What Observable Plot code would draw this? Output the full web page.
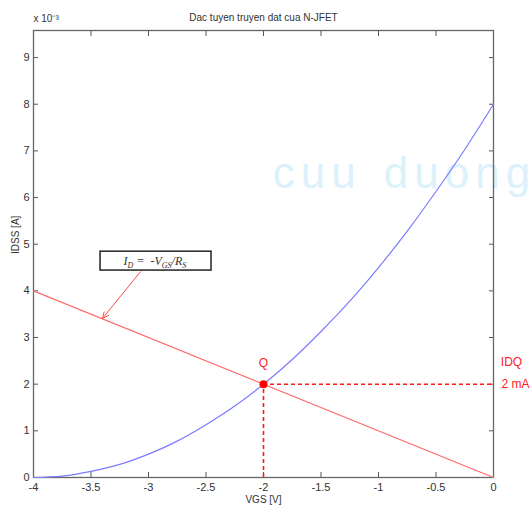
<!DOCTYPE html>
<html><head><meta charset="utf-8">
<script src="https://cdn.jsdelivr.net/npm/d3@7"></script>
<script src="https://cdn.jsdelivr.net/npm/@observablehq/plot@0.6"></script>
<style>body{margin:0;background:#fff}svg{display:block}</style>
</head><body><div id="chart"></div>
<script>
// Transfer characteristic (ID in mA, axis shows x 10^-3)
const vgs = [-4,-3.75,-3.5,-3.25,-3,-2.75,-2.5,-2.25,-2,-1.75,-1.5,-1.25,-1,-0.75,-0.5,-0.25,0];
const ids = [0,0.03,0.13,0.28,0.5,0.78,1.13,1.53,2,2.53,3.13,3.78,4.5,5.28,6.13,7.03,8];
// Load line ID = -VGS/RS
const loadVgs = [-4, 0];
const loadIds = [4, 0];
// Q point
const qVgs = [-2];
const qIds = [2];
const xTicks = [-4,-3.5,-3,-2.5,-2,-1.5,-1,-0.5,0];
const yTicks = [0,1,2,3,4,5,6,7,8,9];

const curve = vgs.map((v,i)=>({v, i: ids[i]}));
const load = loadVgs.map((v,i)=>({v, i: loadIds[i]}));
const q = qVgs.map((v,i)=>({v, i: qIds[i]}));

const font = "Liberation Sans, Arial, sans-serif";
const plot = Plot.plot({
  width: 532, height: 510,
  marginLeft: 33, marginRight: 39, marginTop: 30, marginBottom: 33,
  style: {fontFamily: font, fontSize: "11px", background: "#fff", color: "#333"},
  x: {domain: [-4, 0], ticks: xTicks},
  y: {domain: [0, 9.58], ticks: yTicks},
  marks: [
    // watermark
    Plot.text(["cuu duong"], {x: -1.92, y: 6.5, text: d=>d, textAnchor: "start", fontSize: 44, fill: "#dcf1fb", className: "wm"}),
    Plot.axisX({ticks: xTicks, tickSize: -5, tickPadding: 11, stroke: "#555", fill: "#333", label: null, tickFormat: d => String(d)}),
    Plot.axisX({anchor: "top", ticks: xTicks, tickSize: -5, stroke: "#555", label: null, tickFormat: () => ""}),
    Plot.axisY({ticks: yTicks, tickSize: -5, tickPadding: 9, stroke: "#555", fill: "#333", label: null}),
    Plot.axisY({anchor: "right", ticks: yTicks, tickSize: -5, stroke: "#555", label: null, tickFormat: () => ""}),
    Plot.frame({stroke: "#666", strokeWidth: 1.3}),
    Plot.line(curve, {x: "v", y: "i", stroke: "#7b7bff", strokeWidth: 1.2, curve: "natural"}),
    Plot.line(load, {x: "v", y: "i", stroke: "#ff6b6b", strokeWidth: 1.2}),
    Plot.ruleX(q, {x: "v", y1: 0, y2: "i", stroke: "#ff1a1a", strokeWidth: 1.6, strokeDasharray: "4,3"}),
    Plot.ruleY(q, {y: "i", x1: "v", x2: 0, stroke: "#ff1a1a", strokeWidth: 1.6, strokeDasharray: "4,3"}),
    Plot.dot(q, {x: "v", y: "i", r: 4, fill: "#ff0000"}),
    Plot.text(q, {x: "v", y: "i", text: () => "Q", dy: -21, fill: "#ff1a1a", fontSize: 12}),
    Plot.text(q, {x: 0, y: "i", text: () => "IDQ", dx: 18, dy: -22, fill: "#ff1a1a", fontSize: 12}),
    Plot.text(q, {x: 0, y: "i", text: () => "2 mA", dx: 22, dy: 0, fill: "#ff1a1a", fontSize: 12}),
    // annotation box and arrow
    Plot.rect([0], {x1: -3.417, x2: -2.452, y1: 4.435, y2: 4.84, fill: "#fff", stroke: "#222", strokeWidth: 1.5}),
    Plot.text(["I_D"], {x: -2.94, y: 4.64, text: () => "", fill: "#333"}),
    Plot.arrow([0], {x1: -3.07, y1: 4.41, x2: -3.4, y2: 3.41, stroke: "#ff4d4d", strokeWidth: 1, headLength: 10, headAngle: 50}),
    // titles
    Plot.text(["Dac tuyen truyen dat cua N-JFET"], {frameAnchor: "top", dy: -17, fontSize: 10, fill: "#333"}),
    Plot.text(["x 10⁻³"], {frameAnchor: "top-left", dy: -16, dx: 0, textAnchor: "start", fontSize: 10, fill: "#333"}),
    Plot.text(["VGS [V]"], {frameAnchor: "bottom", dy: 25, fontSize: 10, fill: "#333"}),
    Plot.text(["IDSS [A]"], {frameAnchor: "left", dx: -18, rotate: -90, fontSize: 10, fill: "#333"})
  ]
});
document.getElementById("chart").appendChild(plot);
// letter spacing for watermark
d3.select(plot).selectAll(".wm text").attr("letter-spacing", "6px").attr("word-spacing", "4px");
// formula text in the annotation box
const sx = plot.scale("x"), sy = plot.scale("y");
const t = d3.select(plot).append("text")
  .attr("x", sx.apply(-2.94)).attr("y", sy.apply(4.64)).attr("dy", "0.35em")
  .attr("text-anchor", "middle")
  .attr("font-family", "Liberation Serif, Times New Roman, serif")
  .attr("font-style", "italic").attr("font-size", 12).attr("fill", "#333");
t.append("tspan").text("I");
t.append("tspan").text("D").attr("font-size", 8).attr("dy", 3);
t.append("tspan").text(" =  -V").attr("dy", -3);
t.append("tspan").text("GS").attr("font-size", 8).attr("dy", 3);
t.append("tspan").text("/R").attr("dy", -3);
t.append("tspan").text("S").attr("font-size", 8).attr("dy", 3);
</script></body></html>
